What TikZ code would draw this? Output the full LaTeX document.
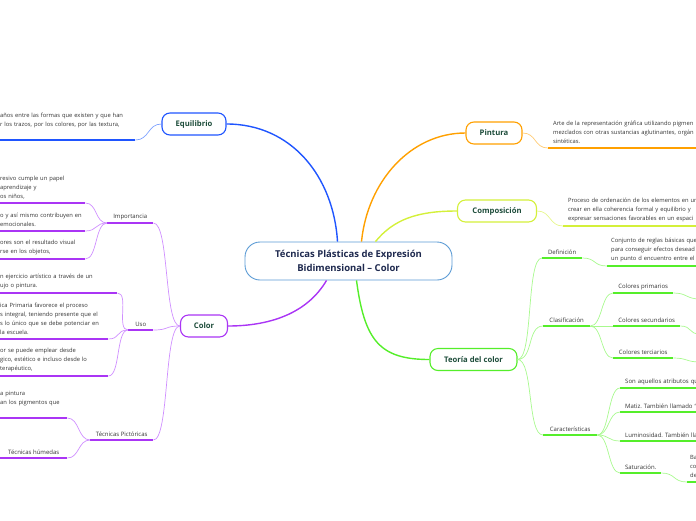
\documentclass[tikz,border=0pt]{standalone}
\usepackage{fontspec}
\setmainfont{Open Sans}
\usetikzlibrary{positioning}

\definecolor{cblue}{HTML}{1F55FF}
\definecolor{cbluel}{HTML}{7FA2FF}
\definecolor{corange}{HTML}{FFA000}
\definecolor{corangel}{HTML}{FFCC77}
\definecolor{cyel}{HTML}{D4F03A}
\definecolor{cyell}{HTML}{E6F78C}
\definecolor{cgreen}{HTML}{55EE2A}
\definecolor{cgreenl}{HTML}{A8F98E}
\definecolor{cpurple}{HTML}{AA35F5}
\definecolor{cpurplel}{HTML}{CF8FFF}
\definecolor{ccentral}{HTML}{5B9BD5}
\definecolor{lbltext}{HTML}{1E4D3B}
\definecolor{maintext}{HTML}{1F2A4F}
\definecolor{txt}{HTML}{333333}

\begin{document}
\frenchspacing
\begin{tikzpicture}[x=1pt,y=-1pt]

% Definitions
\tikzstyle{central} = [rectangle, rounded corners=15pt, draw=ccentral, line width=0.9pt, fill=white, text=maintext, font=\fontsize{9.5}{14}\selectfont\bfseries, align=center, minimum width=207pt, minimum height=38pt, inner sep=0pt]
\tikzstyle{topic} = [rectangle, rounded corners=8pt, line width=1.1pt, fill=white, text=lbltext, font=\fontsize{7.7}{9}\selectfont\bfseries, minimum height=22pt, inner sep=0pt]
\tikzstyle{sub} = [anchor=south west, inner xsep=0pt, inner ysep=3pt, text=txt, font=\fontsize{6}{9}\selectfont, align=center]
\tikzstyle{leaf} = [anchor=south west, inner xsep=0pt, inner ysep=4pt, text=txt, font=\fontsize{5.8}{9}\selectfont, align=left]
\tikzstyle{branch} = [line width=1.4pt]
\tikzstyle{ul} = [line width=2pt]
\tikzstyle{thin} = [line width=0.7pt]

\useasboundingbox (0,0) rectangle (696,520);
\clip (0,0) rectangle (696,520);

% central topic and main topics
\node (main) [central] at (348.5,261) {Técnicas Plásticas de Expresión\\Bidimensional – Color};
\node (equilibrio) [topic, draw=cblue, minimum width=64pt] at (194,124) {Equilibrio};
\node (pintura) [topic, draw=corange, minimum width=56pt] at (494,133) {Pintura};
\node (composicion) [topic, draw=cyel, minimum width=79pt] at (497,211) {Composición};
\node (teoria) [topic, draw=cgreen, minimum width=87pt] at (473.5,359.5) {Teoría del color};
\node (color) [topic, draw=cpurple, minimum width=47pt] at (204,326) {Color};

% Equilibrio
\node (eqtext) [leaf, text width=135pt, inner ysep=12pt] at (0,140) {años entre las formas que existen y que han\\r los trazos, por los colores, por las textura,};

% Pintura
\node (pintext) [leaf, inner xsep=5pt, text width=160pt] at (548,148) {Arte de la representación gráfica utilizando pigmen\\mezclados con otras sustancias aglutinantes, orgán\\sintéticas.};

% Composicion
\node (comptext) [leaf, inner xsep=5pt, text width=140pt] at (563,226) {Proceso de ordenación de los elementos en un\\crear en ella coherencia formal y equilibrio y\\expresar sensaciones favorables en un espaci};

% Teoria del color
\node (definicion) [sub, minimum width=40pt] at (542,258) {Definición};
\node (deftext) [leaf, inner xsep=4pt, text width=100pt] at (607,266) {Conjunto de reglas básicas que\\para conseguir efectos desead\\un punto d encuentro entre el a};
\node (clasificacion) [sub, minimum width=47pt] at (543,326) {Clasificación};
\node (primarios) [sub, minimum width=60pt] at (613,293) {Colores primarios};
\node (secundarios) [sub, minimum width=67pt] at (613,326) {Colores secundarios};
\node (terciarios) [sub, minimum width=60pt] at (613,358) {Colores terciarios};
\node (caracteristicas) [sub, minimum width=54pt] at (543,435) {Características};
\node (atributos) [leaf, font=\fontsize{6}{9}\selectfont, inner ysep=3pt, inner xsep=5pt, text width=90pt] at (620,388) {Son aquellos atributos qu};
\node (matiz) [leaf, font=\fontsize{6}{9}\selectfont, inner ysep=3pt, inner xsep=5pt, text width=90pt] at (620,412) {Matiz. También llamado “};
\node (luminosidad) [leaf, font=\fontsize{6}{9}\selectfont, inner ysep=3pt, inner xsep=5pt, text width=90pt] at (620,441) {Luminosidad. También lla};
\node (saturacion) [sub, minimum width=41pt] at (620,473) {Saturación.};
\node (sattext) [leaf, inner xsep=3pt, text width=20pt] at (687,482) {Ba\\co\\de};
\coordinate (primfin) at (700,299);
\coordinate (secfin) at (700,334);
\coordinate (tercfin) at (700,362);

% Color
\node (importancia) [sub, minimum width=46pt] at (107,223) {Importancia};
\node (imp1) [leaf, text width=85pt] at (0,203) {resivo cumple un papel\\aprendizaje y\\os niños,};
\node (imp2) [leaf, text width=85pt] at (0,231) {o y así mismo contribuyen en\\emocionales.};
\node (imp3) [leaf, text width=85pt] at (0,259) {ores son el resultado visual\\rse en los objetos,};
\node (uso) [sub, minimum width=25pt] at (128,330) {Uso};
\node (uso1) [leaf, text width=117pt] at (0,293) {n ejercicio artístico a través de un\\ujo o pintura.};
\node (uso2) [leaf, text width=108pt] at (0,339) {ica Primaria favorece el proceso\\s integral, teniendo presente que el\\s lo único que se debe potenciar en\\la escuela.};
\node (uso3) [leaf, text width=108pt] at (0,376) {or se puede emplear desde\\gico, estético e incluso desde lo\\terapéutico,};
\node (pictoricas) [sub, minimum width=63pt] at (90,440) {Técnicas Pictóricas};
\node (pict1) [leaf, text width=67pt, inner ysep=12pt] at (0,418) {a pintura\\an los pigmentos que};
\node (humedas) [sub, minimum width=67pt] at (0,458) {Técnicas húmedas};

% main branches
\draw [branch, cblue] ([xshift=-11pt]main.north) .. controls +(-4,-65) and +(65,0) .. (equilibrio.east);
\draw [branch, corange] ([xshift=13pt]main.north) .. controls +(6,-60) and +(-55,0) .. (pintura.west);
\draw [branch, cyel] ([xshift=27pt]main.north) .. controls +(18,-22) and +(-40,0) .. (composicion.west);
\draw [branch, cgreen] ([xshift=8pt]main.south) .. controls +(8,60) and +(-50,0) .. (teoria.west);
\draw [branch, cpurple] ([xshift=-22pt]main.south) .. controls +(-20,34) and +(40,0) .. (color.east);

% underlines
\foreach \n in {eqtext} \draw [ul, cblue] (\n.south west) -- (\n.south east);
\foreach \n in {pintext} \draw [ul, corange] (\n.south west) -- (\n.south east);
\foreach \n in {comptext} \draw [ul, cyel] (\n.south west) -- (\n.south east);
\foreach \n in {definicion, deftext, clasificacion, primarios, secundarios, terciarios, caracteristicas, atributos, matiz, luminosidad, saturacion, sattext}
  \draw [ul, cgreen] (\n.south west) -- (\n.south east);
\foreach \n in {importancia, imp1, imp2, imp3, uso, uso1, uso2, uso3, pictoricas, pict1, humedas}
  \draw [ul, cpurple] (\n.south west) -- (\n.south east);

% thin connectors
\draw [thin, cbluel] (equilibrio.west) .. controls +(-14,0) and +(14,0) .. (eqtext.south east);
\draw [thin, corangel] (pintura.east) .. controls +(14,0) and +(-14,0) .. (pintext.south west);
\draw [thin, cyell] (composicion.east) .. controls +(14,0) and +(-14,0) .. (comptext.south west);
\foreach \n in {definicion, clasificacion, caracteristicas}
  \draw [thin, cgreenl] (teoria.east) .. controls +(16,0) and +(-16,0) .. (\n.south west);
\draw [thin, cgreenl] (definicion.south east) .. controls +(14,0) and +(-14,0) .. (deftext.south west);
\foreach \n in {primarios, secundarios, terciarios}
  \draw [thin, cgreenl] (clasificacion.south east) .. controls +(12,0) and +(-12,0) .. (\n.south west);
\draw [thin, cgreenl] (primarios.south east) .. controls +(14,0) and +(-14,0) .. (primfin);
\draw [thin, cgreenl] (secundarios.south east) .. controls +(12,0) and +(-12,0) .. (secfin);
\draw [thin, cgreenl] (terciarios.south east) .. controls +(14,0) and +(-14,0) .. (tercfin);
\foreach \n in {atributos, matiz, luminosidad, saturacion}
  \draw [thin, cgreenl] (caracteristicas.south east) .. controls +(12,0) and +(-12,0) .. (\n.south west);
\draw [thin, cgreenl] (saturacion.south east) .. controls +(14,0) and +(-14,0) .. (sattext.south west);
\foreach \n in {importancia, uso, pictoricas}
  \draw [thin, cpurplel] (color.west) .. controls +(-16,0) and +(16,0) .. (\n.south east);
\foreach \n in {imp1, imp2, imp3}
  \draw [thin, cpurplel] (importancia.south west) .. controls +(-12,0) and +(12,0) .. (\n.south east);
\foreach \n in {uso1, uso2, uso3}
  \draw [thin, cpurplel] (uso.south west) .. controls +(-12,0) and +(12,0) .. (\n.south east);
\foreach \n in {pict1, humedas}
  \draw [thin, cpurplel] (pictoricas.south west) .. controls +(-12,0) and +(12,0) .. (\n.south east);

\end{tikzpicture}
\end{document}
